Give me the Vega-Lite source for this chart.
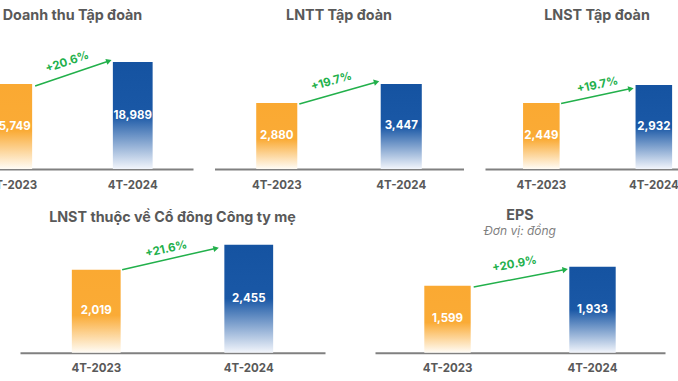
{
  "$schema": "https://vega.github.io/schema/vega-lite/v6.json",
  "padding": {"left": -48, "top": 9, "right": 0, "bottom": 0},
  "background": "white",
  "datasets": {
    "bars": [
      {"panel": "DT", "year": "4T-2023", "value": 15749},
      {"panel": "DT", "year": "4T-2024", "value": 18989},
      {"panel": "LNTT", "year": "4T-2023", "value": 2880},
      {"panel": "LNTT", "year": "4T-2024", "value": 3447},
      {"panel": "LNST", "year": "4T-2023", "value": 2449},
      {"panel": "LNST", "year": "4T-2024", "value": 2932},
      {"panel": "CTM", "year": "4T-2023", "value": 2019},
      {"panel": "CTM", "year": "4T-2024", "value": 2455},
      {"panel": "EPS", "year": "4T-2023", "value": 1599},
      {"panel": "EPS", "year": "4T-2024", "value": 1933}
    ],
    "arrows": [
      {"panel": "DT", "from_year": "4T-2023", "to_year": "4T-2024", "from_value": 15749, "to_value": 18989, "change": "+20.6%"},
      {"panel": "LNTT", "from_year": "4T-2023", "to_year": "4T-2024", "from_value": 2880, "to_value": 3447, "change": "+19.7%"},
      {"panel": "LNST", "from_year": "4T-2023", "to_year": "4T-2024", "from_value": 2449, "to_value": 2932, "change": "+19.7%"},
      {"panel": "CTM", "from_year": "4T-2023", "to_year": "4T-2024", "from_value": 2019, "to_value": 2455, "change": "+21.6%"},
      {"panel": "EPS", "from_year": "4T-2023", "to_year": "4T-2024", "from_value": 1599, "to_value": 1933, "change": "+20.9%"}
    ]
  },
  "spacing": 17.7,
  "vconcat": [
    {
      "bounds": "flush",
      "spacing": 21.5,
      "hconcat": [
        {
          "width": 241, "height": 140,
          "title": {"text": "Doanh thu Tập đoàn", "offset": 5.3},
          "resolve": {"scale": {"y": "independent"}},
          "layer": [
            {"data": {"name": "bars"}, "transform": [{"filter": "datum.panel === 'DT'"}],
             "mark": {"type": "bar"},
             "encoding": {
               "x": {"field": "year", "type": "nominal", "title": null, "scale": {"type": "band", "domain": ["4T-2023", "4T-2024"], "paddingInner": 0.67, "paddingOuter": 0.335}},
               "y": {"field": "value", "type": "quantitative", "axis": null, "scale": {"domain": [3231, 23849]}},
               "y2": {"datum": 3231},
               "fill": {"condition": {"test": "datum.year === '4T-2023'", "value": {"gradient": "linear", "x1": 0, "y1": 0, "x2": 0, "y2": 1, "stops": [{"offset": 0, "color": "#FAA932"}, {"offset": 0.55, "color": "#FAAB36"}, {"offset": 1, "color": "#FFFCF6"}]}},
                        "value": {"gradient": "linear", "x1": 0, "y1": 0, "x2": 0, "y2": 1, "stops": [{"offset": 0, "color": "#1553A1"}, {"offset": 0.5, "color": "#1A58A6"}, {"offset": 1, "color": "#F2F5FB"}]}}
             }},
            {"data": {"name": "bars"}, "transform": [{"filter": "datum.panel === 'DT'"}],
             "mark": {"type": "text", "color": "white", "fontWeight": "bold", "fontSize": 11.5, "baseline": "middle", "align": "center"},
             "encoding": {
               "x": {"field": "year", "type": "nominal", "title": null},
               "y": {"field": "value", "type": "quantitative", "axis": null, "scale": {"domain": [3231, 44467]}},
               "text": {"field": "value", "type": "quantitative", "format": ","}
             }},
            {"data": {"name": "arrows"}, "transform": [{"filter": "datum.panel === 'DT'"}],
             "mark": {"type": "rule", "color": "#22B04B", "strokeWidth": 1.5, "xOffset": 3, "yOffset": 2, "x2Offset": -4, "y2Offset": -1},
             "encoding": {
               "x": {"field": "from_year", "type": "nominal", "bandPosition": 1, "title": null},
               "x2": {"field": "to_year", "bandPosition": 0},
               "y": {"field": "from_value", "type": "quantitative", "axis": null, "scale": {"domain": [3231, 23849]}},
               "y2": {"field": "to_value"}
             }},
            {"data": {"name": "arrows"}, "transform": [{"filter": "datum.panel === 'DT'"}],
             "mark": {"type": "point", "shape": "triangle-right", "filled": true, "color": "#22B04B", "opacity": 1, "size": 40, "angle": 341.3, "xOffset": -3.9, "yOffset": -1},
             "encoding": {
               "x": {"field": "to_year", "type": "nominal", "bandPosition": 0, "title": null},
               "y": {"field": "to_value", "type": "quantitative", "axis": null, "scale": {"domain": [3231, 23849]}}
             }},
            {"data": {"name": "arrows"}, "transform": [{"filter": "datum.panel === 'DT'"}],
             "mark": {"type": "text", "color": "#22B04B", "fontWeight": "bold", "fontSize": 11.5, "angle": 341.3, "dx": 40.3, "dy": -9.1, "baseline": "middle", "align": "center"},
             "encoding": {
               "x": {"field": "from_year", "type": "nominal", "bandPosition": 1, "title": null},
               "y": {"field": "from_value", "type": "quantitative", "axis": null, "scale": {"domain": [3231, 23849]}},
               "text": {"field": "change"}
             }}
          ]
        },
        {
          "width": 249, "height": 140,
          "title": {"text": "LNTT Tập đoàn", "offset": 5.3},
          "resolve": {"scale": {"y": "independent"}},
          "layer": [
            {"data": {"name": "bars"}, "transform": [{"filter": "datum.panel === 'LNTT'"}],
             "mark": {"type": "bar"},
             "encoding": {
               "x": {"field": "year", "type": "nominal", "title": null, "scale": {"type": "band", "domain": ["4T-2023", "4T-2024"], "paddingInner": 0.67, "paddingOuter": 0.335}},
               "y": {"field": "value", "type": "quantitative", "axis": null, "scale": {"domain": [910, 5088]}},
               "y2": {"datum": 910},
               "fill": {"condition": {"test": "datum.year === '4T-2023'", "value": {"gradient": "linear", "x1": 0, "y1": 0, "x2": 0, "y2": 1, "stops": [{"offset": 0, "color": "#FAA932"}, {"offset": 0.55, "color": "#FAAB36"}, {"offset": 1, "color": "#FFFCF6"}]}},
                        "value": {"gradient": "linear", "x1": 0, "y1": 0, "x2": 0, "y2": 1, "stops": [{"offset": 0, "color": "#1553A1"}, {"offset": 0.5, "color": "#1A58A6"}, {"offset": 1, "color": "#F2F5FB"}]}}
             }},
            {"data": {"name": "bars"}, "transform": [{"filter": "datum.panel === 'LNTT'"}],
             "mark": {"type": "text", "color": "white", "fontWeight": "bold", "fontSize": 11.5, "baseline": "middle", "align": "center"},
             "encoding": {
               "x": {"field": "year", "type": "nominal", "title": null},
               "y": {"field": "value", "type": "quantitative", "axis": null, "scale": {"domain": [910, 9266]}},
               "text": {"field": "value", "type": "quantitative", "format": ","}
             }},
            {"data": {"name": "arrows"}, "transform": [{"filter": "datum.panel === 'LNTT'"}],
             "mark": {"type": "rule", "color": "#22B04B", "strokeWidth": 1.5, "xOffset": 2, "yOffset": 1, "x2Offset": -4, "y2Offset": -2},
             "encoding": {
               "x": {"field": "from_year", "type": "nominal", "bandPosition": 1, "title": null},
               "x2": {"field": "to_year", "bandPosition": 0},
               "y": {"field": "from_value", "type": "quantitative", "axis": null, "scale": {"domain": [910, 5088]}},
               "y2": {"field": "to_value"}
             }},
            {"data": {"name": "arrows"}, "transform": [{"filter": "datum.panel === 'LNTT'"}],
             "mark": {"type": "point", "shape": "triangle-right", "filled": true, "color": "#22B04B", "opacity": 1, "size": 40, "angle": 344, "xOffset": -4.1, "yOffset": -2.1},
             "encoding": {
               "x": {"field": "to_year", "type": "nominal", "bandPosition": 0, "title": null},
               "y": {"field": "to_value", "type": "quantitative", "axis": null, "scale": {"domain": [910, 5088]}}
             }},
            {"data": {"name": "arrows"}, "transform": [{"filter": "datum.panel === 'LNTT'"}],
             "mark": {"type": "text", "color": "#22B04B", "fontWeight": "bold", "fontSize": 11.5, "angle": 344, "dx": 38.7, "dy": -10.8, "baseline": "middle", "align": "center"},
             "encoding": {
               "x": {"field": "from_year", "type": "nominal", "bandPosition": 1, "title": null},
               "y": {"field": "from_value", "type": "quantitative", "axis": null, "scale": {"domain": [910, 5088]}},
               "text": {"field": "change"}
             }}
          ]
        },
        {
          "width": 193, "height": 140,
          "title": {"text": "LNST Tập đoàn", "offset": 5.3, "dx": 15.5},
          "resolve": {"scale": {"y": "independent"}},
          "layer": [
            {"data": {"name": "bars"}, "transform": [{"filter": "datum.panel === 'LNST'"}],
             "mark": {"type": "bar"},
             "encoding": {
               "x": {"field": "year", "type": "nominal", "title": null, "scale": {"type": "band", "domain": ["4T-2023", "4T-2024"], "paddingInner": 0.675, "paddingOuter": 0.1953, "align": 0.866}},
               "y": {"field": "value", "type": "quantitative", "axis": null, "scale": {"domain": [678, 4435]}},
               "y2": {"datum": 678},
               "fill": {"condition": {"test": "datum.year === '4T-2023'", "value": {"gradient": "linear", "x1": 0, "y1": 0, "x2": 0, "y2": 1, "stops": [{"offset": 0, "color": "#FAA932"}, {"offset": 0.55, "color": "#FAAB36"}, {"offset": 1, "color": "#FFFCF6"}]}},
                        "value": {"gradient": "linear", "x1": 0, "y1": 0, "x2": 0, "y2": 1, "stops": [{"offset": 0, "color": "#1553A1"}, {"offset": 0.5, "color": "#1A58A6"}, {"offset": 1, "color": "#F2F5FB"}]}}
             }},
            {"data": {"name": "bars"}, "transform": [{"filter": "datum.panel === 'LNST'"}],
             "mark": {"type": "text", "color": "white", "fontWeight": "bold", "fontSize": 11.5, "baseline": "middle", "align": "center"},
             "encoding": {
               "x": {"field": "year", "type": "nominal", "title": null},
               "y": {"field": "value", "type": "quantitative", "axis": null, "scale": {"domain": [678, 8192]}},
               "text": {"field": "value", "type": "quantitative", "format": ","}
             }},
            {"data": {"name": "arrows"}, "transform": [{"filter": "datum.panel === 'LNST'"}],
             "mark": {"type": "rule", "color": "#22B04B", "strokeWidth": 1.5, "xOffset": 1.5, "yOffset": 0.5, "x2Offset": -4.5, "y2Offset": 3.5},
             "encoding": {
               "x": {"field": "from_year", "type": "nominal", "bandPosition": 1, "title": null},
               "x2": {"field": "to_year", "bandPosition": 0},
               "y": {"field": "from_value", "type": "quantitative", "axis": null, "scale": {"domain": [678, 4435]}},
               "y2": {"field": "to_value"}
             }},
            {"data": {"name": "arrows"}, "transform": [{"filter": "datum.panel === 'LNST'"}],
             "mark": {"type": "point", "shape": "triangle-right", "filled": true, "color": "#22B04B", "opacity": 1, "size": 40, "angle": 348, "xOffset": -4.6, "yOffset": 3.7},
             "encoding": {
               "x": {"field": "to_year", "type": "nominal", "bandPosition": 0, "title": null},
               "y": {"field": "to_value", "type": "quantitative", "axis": null, "scale": {"domain": [678, 4435]}}
             }},
            {"data": {"name": "arrows"}, "transform": [{"filter": "datum.panel === 'LNST'"}],
             "mark": {"type": "text", "color": "#22B04B", "fontWeight": "bold", "fontSize": 11.5, "angle": 348, "dx": 40.7, "dy": -9.2, "baseline": "middle", "align": "center"},
             "encoding": {
               "x": {"field": "from_year", "type": "nominal", "bandPosition": 1, "title": null},
               "y": {"field": "from_value", "type": "quantitative", "axis": null, "scale": {"domain": [678, 4435]}},
               "text": {"field": "change"}
             }}
          ]
        }
      ]
    },
    {
      "bounds": "flush",
      "spacing": 50,
      "hconcat": [
        {"width": 18, "height": 113, "data": {"values": []}, "mark": {"type": "point", "opacity": 0}},
        {
          "width": 305, "height": 113,
          "title": {"text": "LNST thuộc về Cổ đông Công ty mẹ", "offset": 13.7},
          "resolve": {"scale": {"y": "independent"}},
          "layer": [
            {"data": {"name": "bars"}, "transform": [{"filter": "datum.panel === 'CTM'"}],
             "mark": {"type": "bar"},
             "encoding": {
               "x": {"field": "year", "type": "nominal", "title": null, "scale": {"type": "band", "domain": ["4T-2023", "4T-2024"], "paddingInner": 0.68, "paddingOuter": 0.34}},
               "y": {"field": "value", "type": "quantitative", "axis": null, "scale": {"domain": [571.5, 2542]}},
               "y2": {"datum": 571.5},
               "fill": {"condition": {"test": "datum.year === '4T-2023'", "value": {"gradient": "linear", "x1": 0, "y1": 0, "x2": 0, "y2": 1, "stops": [{"offset": 0, "color": "#FAA932"}, {"offset": 0.55, "color": "#FAAB36"}, {"offset": 1, "color": "#FFFCF6"}]}},
                        "value": {"gradient": "linear", "x1": 0, "y1": 0, "x2": 0, "y2": 1, "stops": [{"offset": 0, "color": "#1553A1"}, {"offset": 0.5, "color": "#1A58A6"}, {"offset": 1, "color": "#F2F5FB"}]}}
             }},
            {"data": {"name": "bars"}, "transform": [{"filter": "datum.panel === 'CTM'"}],
             "mark": {"type": "text", "color": "white", "fontWeight": "bold", "fontSize": 11.5, "baseline": "middle", "align": "center"},
             "encoding": {
               "x": {"field": "year", "type": "nominal", "title": null},
               "y": {"field": "value", "type": "quantitative", "axis": null, "scale": {"domain": [571.5, 4512.5]}},
               "text": {"field": "value", "type": "quantitative", "format": ","}
             }},
            {"data": {"name": "arrows"}, "transform": [{"filter": "datum.panel === 'CTM'"}],
             "mark": {"type": "rule", "color": "#22B04B", "strokeWidth": 1.5, "xOffset": 1.5, "yOffset": 0, "x2Offset": -8, "y2Offset": 3.5},
             "encoding": {
               "x": {"field": "from_year", "type": "nominal", "bandPosition": 1, "title": null},
               "x2": {"field": "to_year", "bandPosition": 0},
               "y": {"field": "from_value", "type": "quantitative", "axis": null, "scale": {"domain": [571.5, 2542]}},
               "y2": {"field": "to_value"}
             }},
            {"data": {"name": "arrows"}, "transform": [{"filter": "datum.panel === 'CTM'"}],
             "mark": {"type": "point", "shape": "triangle-right", "filled": true, "color": "#22B04B", "opacity": 1, "size": 40, "angle": 347.2, "xOffset": -8.2, "yOffset": 3.7},
             "encoding": {
               "x": {"field": "to_year", "type": "nominal", "bandPosition": 0, "title": null},
               "y": {"field": "to_value", "type": "quantitative", "axis": null, "scale": {"domain": [571.5, 2542]}}
             }},
            {"data": {"name": "arrows"}, "transform": [{"filter": "datum.panel === 'CTM'"}],
             "mark": {"type": "text", "color": "#22B04B", "fontWeight": "bold", "fontSize": 11.5, "angle": 347.2, "dx": 49, "dy": -9.4, "baseline": "middle", "align": "center"},
             "encoding": {
               "x": {"field": "from_year", "type": "nominal", "bandPosition": 1, "title": null},
               "y": {"field": "from_value", "type": "quantitative", "axis": null, "scale": {"domain": [571.5, 2542]}},
               "text": {"field": "change"}
             }}
          ]
        },
        {
          "width": 290, "height": 113,
          "title": {"text": "EPS", "subtitle": "Đơn vị: đồng", "offset": 2.3},
          "resolve": {"scale": {"y": "independent"}},
          "layer": [
            {"data": {"name": "bars"}, "transform": [{"filter": "datum.panel === 'EPS'"}],
             "mark": {"type": "bar"},
             "encoding": {
               "x": {"field": "year", "type": "nominal", "title": null, "scale": {"type": "band", "domain": ["4T-2023", "4T-2024"], "paddingInner": 0.68, "paddingOuter": 0.34}},
               "y": {"field": "value", "type": "quantitative", "axis": null, "scale": {"domain": [421, 2407]}},
               "y2": {"datum": 421},
               "fill": {"condition": {"test": "datum.year === '4T-2023'", "value": {"gradient": "linear", "x1": 0, "y1": 0, "x2": 0, "y2": 1, "stops": [{"offset": 0, "color": "#FAA932"}, {"offset": 0.55, "color": "#FAAB36"}, {"offset": 1, "color": "#FFFCF6"}]}},
                        "value": {"gradient": "linear", "x1": 0, "y1": 0, "x2": 0, "y2": 1, "stops": [{"offset": 0, "color": "#1553A1"}, {"offset": 0.5, "color": "#1A58A6"}, {"offset": 1, "color": "#F2F5FB"}]}}
             }},
            {"data": {"name": "bars"}, "transform": [{"filter": "datum.panel === 'EPS'"}],
             "mark": {"type": "text", "color": "white", "fontWeight": "bold", "fontSize": 11.5, "baseline": "middle", "align": "center"},
             "encoding": {
               "x": {"field": "year", "type": "nominal", "title": null},
               "y": {"field": "value", "type": "quantitative", "axis": null, "scale": {"domain": [421, 4393]}},
               "text": {"field": "value", "type": "quantitative", "format": ","}
             }},
            {"data": {"name": "arrows"}, "transform": [{"filter": "datum.panel === 'EPS'"}],
             "mark": {"type": "rule", "color": "#22B04B", "strokeWidth": 1.5, "xOffset": 3, "yOffset": 1.3, "x2Offset": -4, "y2Offset": 2.8},
             "encoding": {
               "x": {"field": "from_year", "type": "nominal", "bandPosition": 1, "title": null},
               "x2": {"field": "to_year", "bandPosition": 0},
               "y": {"field": "from_value", "type": "quantitative", "axis": null, "scale": {"domain": [421, 2407]}},
               "y2": {"field": "to_value"}
             }},
            {"data": {"name": "arrows"}, "transform": [{"filter": "datum.panel === 'EPS'"}],
             "mark": {"type": "point", "shape": "triangle-right", "filled": true, "color": "#22B04B", "opacity": 1, "size": 40, "angle": 349.2, "xOffset": -4.1, "yOffset": 2.9},
             "encoding": {
               "x": {"field": "to_year", "type": "nominal", "bandPosition": 0, "title": null},
               "y": {"field": "to_value", "type": "quantitative", "axis": null, "scale": {"domain": [421, 2407]}}
             }},
            {"data": {"name": "arrows"}, "transform": [{"filter": "datum.panel === 'EPS'"}],
             "mark": {"type": "text", "color": "#22B04B", "fontWeight": "bold", "fontSize": 11.5, "angle": 349.2, "dx": 47.1, "dy": -12.4, "baseline": "middle", "align": "center"},
             "encoding": {
               "x": {"field": "from_year", "type": "nominal", "bandPosition": 1, "title": null},
               "y": {"field": "from_value", "type": "quantitative", "axis": null, "scale": {"domain": [421, 2407]}},
               "text": {"field": "change"}
             }}
          ]
        }
      ]
    }
  ],
  "config": {
    "view": {"stroke": null},
    "font": "Inter",
    "text": {"font": "Inter"},
    "axisX": {"labelFont": "Inter", "labelFontSize": 11.5, "labelFontWeight": "bold", "labelColor": "#595959", "ticks": false, "tickSize": 0, "labelPadding": 10, "domainColor": "#808080", "domainWidth": 2, "labelAngle": 0, "grid": false},
    "title": {"font": "Inter", "fontSize": 14.3, "fontWeight": "bold", "color": "#595959", "anchor": "middle", "baseline": "top", "subtitleFont": "Inter", "subtitleFontSize": 12, "subtitleFontStyle": "italic", "subtitleFontWeight": "normal", "subtitleColor": "#7f7f7f", "subtitlePadding": 2.7}
  }
}
